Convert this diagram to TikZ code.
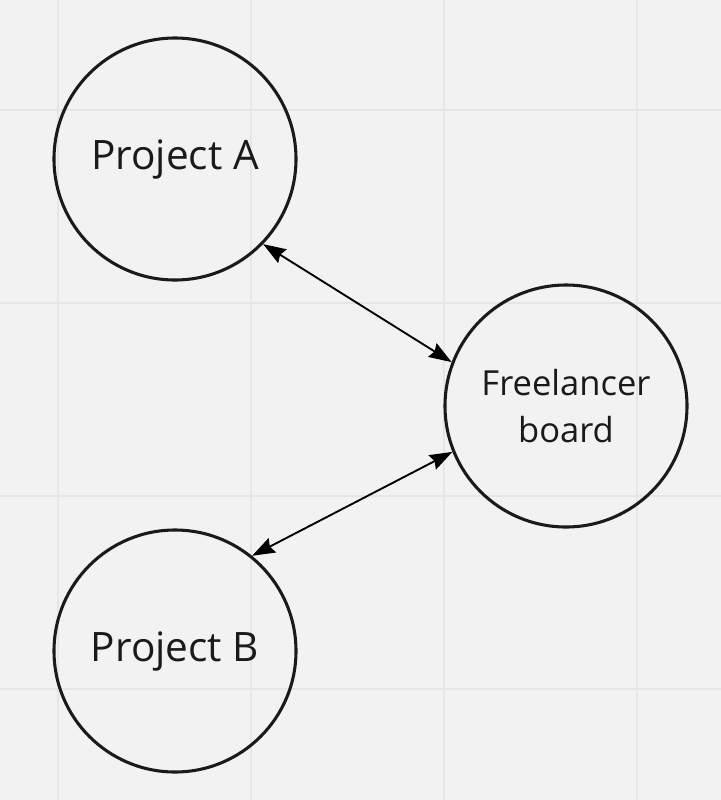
\documentclass[tikz,border=0pt]{standalone}
\usepackage{fontspec}
\setmainfont{Open Sans}
\usetikzlibrary{arrows.meta}
\definecolor{bg}{HTML}{F2F2F2}
\definecolor{gridc}{HTML}{E6E6E6}
\definecolor{ink}{HTML}{1A1A1A}
\begin{document}
\begin{tikzpicture}[x=0.75pt,y=-0.75pt,
  circ/.style={circle,draw=ink,line width=2.3pt,minimum size=181.5pt,inner sep=0pt,text=ink,align=center},
  link/.style={line width=1.4pt,black,{Stealth[length=17pt,width=12pt,inset=2pt]}-{Stealth[length=17pt,width=12pt,inset=2pt]}}]
\fill[bg] (0,0) rectangle (721,800);
\useasboundingbox (0,0) rectangle (721,800);
\foreach \g in {58,251,444,637} \draw[gridc,line width=1pt] (\g,0) -- (\g,800);
\foreach \g in {110,303,496,689} \draw[gridc,line width=1pt] (0,\g) -- (721,\g);
\node[circ,font=\fontsize{30.4}{34}\selectfont] (a) at (175,159) {Project A};
\node[circ,font=\fontsize{25.9}{35}\selectfont] (f) at (566,406) {Freelancer\\board};
\node[circ,font=\fontsize{30.4}{34}\selectfont] (b) at (175,651) {Project B};
\draw[link] (a.-44) -- (f.159.6);
\draw[link] (f.-158) -- (b.51);
\end{tikzpicture}
\end{document}
